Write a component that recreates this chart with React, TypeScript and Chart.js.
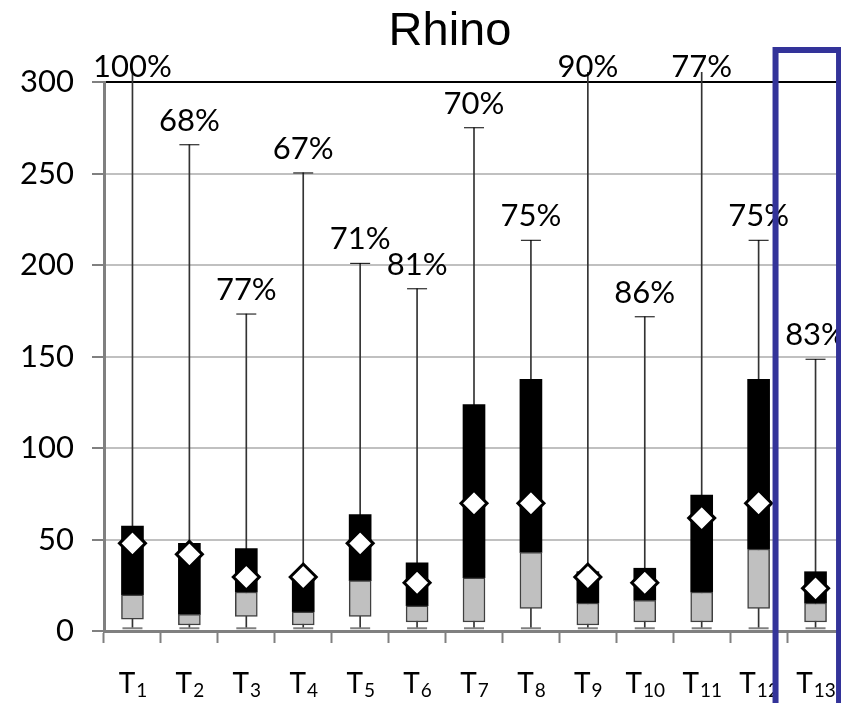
import React, { useEffect, useRef } from "react";
import { Chart, registerables } from "chart.js";

Chart.register(...registerables);

const categories = ["T1", "T2", "T3", "T4", "T5", "T6", "T7", "T8", "T9", "T10", "T11", "T12", "T13"];
const mins = [1.5, 1.5, 1.5, 1.5, 1.5, 1.5, 1.5, 1.5, 1.5, 1.5, 1.5, 1.5, 1.5];
const q1s = [6.4, 3.3, 8, 3.3, 8, 4.9, 4.9, 12.4, 3.3, 4.9, 4.9, 12.4, 4.9];
const medians = [19.8, 9.1, 21.3, 10.5, 27.5, 13.8, 29.1, 43, 15.3, 16.8, 21.3, 44.8, 15.3];
const q3s = [57.4, 47.9, 45, 29.7, 63.6, 37.2, 123.7, 137.5, 32.4, 34.3, 74.3, 137.5, 32.4];
const means = [47.9, 41.9, 29.5, 29.5, 47.9, 26.4, 69.8, 69.8, 29.5, 26.4, 61.7, 69.8, 23.3];
const maxes = [320, 265.7, 173.2, 250.3, 200.9, 187, 275, 213.5, 320, 171.7, 320, 213.5, 148.5];
const percents = ["100%", "68%", "77%", "67%", "71%", "81%", "70%", "75%", "90%", "86%", "77%", "75%", "83%"];
const yTicks = [0, 50, 100, 150, 200, 250, 300];
const title = "Rhino";
const highlighted = "T13";

const FONT = "Lato";

const overlayPlugin = {
  id: "overlay",
  afterDatasetsDraw(chart: any) {
    const { ctx, chartArea } = chart;
    const x = chart.scales.x;
    const y = chart.scales.y;
    ctx.save();
    // percentage labels
    ctx.fillStyle = "#000";
    ctx.textAlign = "center";
    ctx.textBaseline = "middle";
    ctx.font = `31px ${FONT}`;
    categories.forEach((c, i) => {
      const px = x.getPixelForValue(i);
      const py = maxes[i] > y.max ? chartArea.top - 15 : y.getPixelForValue(maxes[i]) - 24;
      ctx.fillText(percents[i], px, py);
    });
    // category labels with subscripts
    ctx.textAlign = "left";
    ctx.textBaseline = "alphabetic";
    categories.forEach((c, i) => {
      const px = x.getPixelForValue(i);
      const main = c.slice(0, 1);
      const sub = c.slice(1);
      ctx.font = `28px ${FONT}`;
      const wMain = ctx.measureText(main).width;
      ctx.font = `19px ${FONT}`;
      const wSub = ctx.measureText(sub).width;
      const startX = px - (wMain + wSub) / 2;
      const base = chartArea.bottom + 62;
      ctx.font = `28px ${FONT}`;
      ctx.fillText(main, startX, base);
      ctx.font = `19px ${FONT}`;
      ctx.fillText(sub, startX + wMain + 1, base + 4);
    });
    // title
    ctx.textAlign = "center";
    ctx.font = `47px "Liberation Sans"`;
    ctx.fillText(title, 450, 45);
    // highlight box around last category
    const hi = categories.indexOf(highlighted);
    const hx = x.getPixelForValue(hi);
    ctx.strokeStyle = "#333399";
    ctx.lineWidth = 6;
    ctx.strokeRect(hx - 40, 50, 63.5, chart.height + 10);
    ctx.restore();
  },
};

export default function App() {
  const ref = useRef<HTMLCanvasElement | null>(null);
  useEffect(() => {
    let chart: Chart | null = null;
    let cancelled = false;
    const make = () => {
      if (cancelled || !ref.current) return;
      chart = new Chart(ref.current, {
        type: "bar",
        data: {
          labels: categories,
          datasets: [
            {
              type: "line",
              label: "mean",
              data: means,
              showLine: false,
              pointStyle: "rectRot",
              pointRadius: 13,
              pointBackgroundColor: "#ffffff",
              pointBorderColor: "#000000",
              pointBorderWidth: 3,
              order: 0,
            } as any,
            {
              type: "line",
              label: "maxcap",
              data: maxes,
              showLine: false,
              pointStyle: "line",
              pointRadius: 10,
              pointBorderColor: "#000000",
              pointBorderWidth: 1,
              order: 1,
            } as any,
            {
              type: "line",
              label: "mincap",
              data: mins,
              showLine: false,
              pointStyle: "line",
              pointRadius: 10,
              pointBorderColor: "#808080",
              pointBorderWidth: 2,
              order: 2,
            } as any,
            {
              label: "lower",
              data: categories.map((c, i) => [q1s[i], medians[i]]),
              backgroundColor: "#c0c0c0",
              borderColor: "#404040",
              borderWidth: 1.5,
              borderSkipped: false,
              barThickness: 22,
              grouped: false,
              order: 3,
            } as any,
            {
              label: "upper",
              data: categories.map((c, i) => [medians[i], q3s[i]]),
              backgroundColor: "#000000",
              borderWidth: 0,
              barThickness: 22,
              grouped: false,
              order: 4,
            } as any,
            {
              label: "whisker",
              data: categories.map((c, i) => [mins[i], maxes[i]]),
              backgroundColor: "#333333",
              borderWidth: 0,
              barThickness: 1,
              grouped: false,
              clip: { left: 0, top: 10, right: 0, bottom: 0 },
              order: 5,
            } as any,
          ],
        },
        options: {
          animation: false,
          responsive: false,
          devicePixelRatio: 1,
          layout: { autoPadding: false, padding: { top: 82, left: 0, right: 0, bottom: 0 } },
          plugins: { legend: { display: false }, tooltip: { enabled: false }, title: { display: false } },
          scales: {
            x: {
              type: "category",
              offset: true,
              grid: {
                offset: true,
                drawOnChartArea: false,
                drawTicks: true,
                tickLength: 12,
                tickColor: "#808080",
                tickWidth: 2,
                color: "#808080",
              },
              border: { color: "#808080", width: 3 },
              ticks: { display: false },
              afterFit: (s: any) => {
                s.height = 72;
              },
            },
            y: {
              min: 0,
              max: 300,
              afterBuildTicks: (s: any) => {
                s.ticks = yTicks.map((v) => ({ value: v }));
              },
              grid: {
                color: (c: any) => (c.tick && c.tick.value === 300 ? "#000000" : c.tick && c.tick.value === 0 ? "#808080" : "#c0c0c0"),
                lineWidth: 2,
                tickLength: 12,
                tickColor: "#808080",
                tickWidth: 2,
              },
              border: { color: "#808080", width: 3 },
              ticks: {
                color: "#000",
                font: { family: FONT, size: 31 },
                padding: 18,
              },
              afterFit: (s: any) => {
                s.width = 104;
              },
            },
          },
        },
        plugins: [overlayPlugin],
      } as any);
    };
    const fonts: any = (document as any).fonts;
    if (fonts && fonts.load) {
      Promise.all([fonts.load(`31px ${FONT}`), fonts.load(`47px "Liberation Sans"`)])
        .catch(() => {})
        .then(make);
    } else {
      make();
    }
    return () => {
      cancelled = true;
      if (chart) chart.destroy();
    };
  }, []);
  return (
    <div style={{ position: "fixed", left: 0, top: 0, width: 841, height: 703, overflow: "hidden", background: "#fff" }}>
      <canvas ref={ref} width={844} height={703} style={{ width: 844, height: 703, display: "block" }} />
    </div>
  );
}
